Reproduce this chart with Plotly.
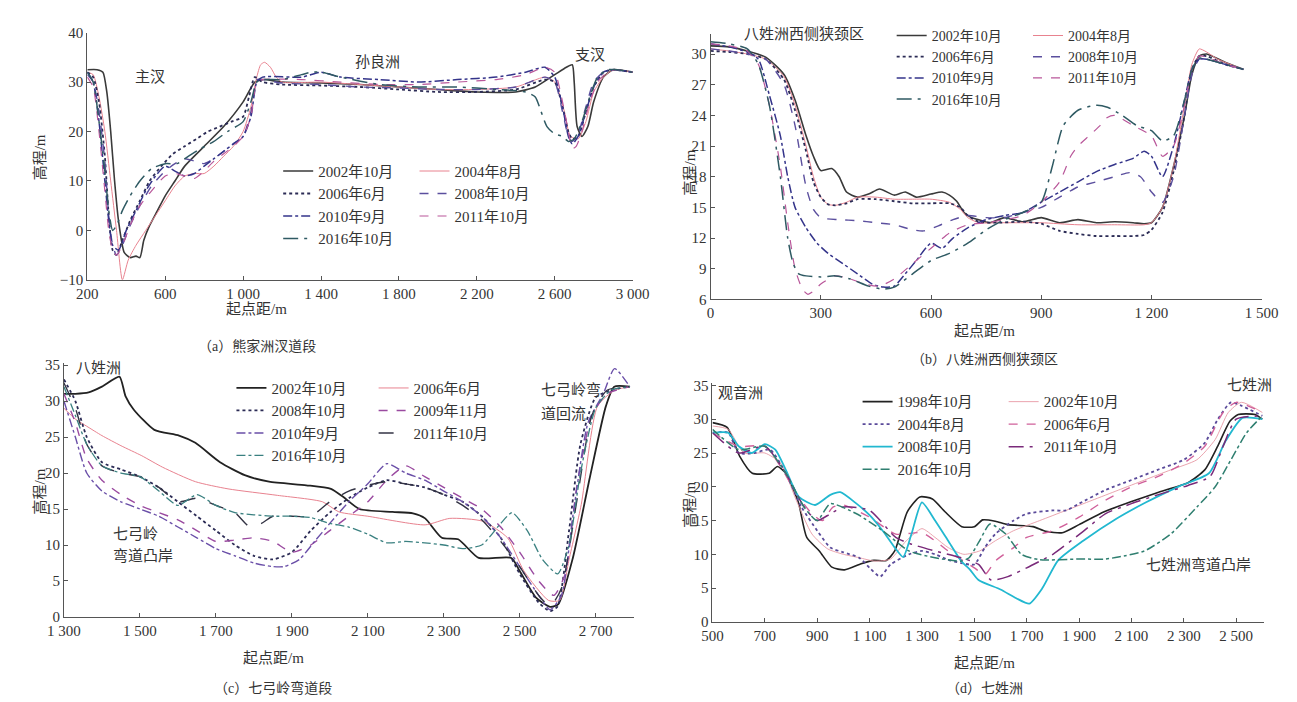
import plotly.graph_objects as go

FONT = "Liberation Serif, Noto Sans CJK SC, serif"
W, H = 1297, 702

# ---------------- data ----------------
# Panel (a)
a_names = ["2002年10月", "2004年8月", "2006年6月", "2008年10月", "2010年9月", "2011年10月", "2016年10月"]
a_2002_x = [200,250,280,300,320,340,360,390,420,450,470,490,520,560,600,650,700,800,900,1000,1060,1100,1200,1400,1600,1800,2000,2200,2400,2500,2600,2660,2690,2700,2715,2740,2770,2800,2850,2900,3000]
a_2002_y = [32.5,32.5,32,28,20,10,2,-4.5,-5.5,-5.2,-5.5,-2,1,4,7,10,13,17,21,26,30,30.5,30,29.8,29.5,29,28.5,28,28,29,31.5,33,33.5,30,21,19,21,26,31,32.5,32]
a_2004_x = [200,230,260,290,320,350,380,410,450,500,550,600,650,700,750,800,850,900,950,1000,1040,1070,1090,1110,1140,1170,1200,1400,1600,1800,2000,2200,2400,2550,2600,2650,2680,2720,2760,2800,2850,2900,3000]
a_2004_y = [32,31.5,27,20,10,0,-10,-6,-3,0,3,6,9,11,11.5,11.5,13,15,17,20,25,31,33.5,34,33,31,30,30,29.5,29,28.5,28.5,29,31,30,24,19,18.5,22,28,31,32.5,32]
a_2006_x = [200,230,260,290,310,330,350,380,420,470,520,580,640,700,760,820,880,940,1000,1030,1060,1100,1200,1400,1600,1800,2000,2200,2400,2550,2600,2640,2670,2690,2720,2760,2800,2850,2900,3000]
a_2006_y = [32,31,26,15,3,-4,-5,-2,2,6,10,13,15.5,17,18.5,20,21,22,23,27,31,30,29.5,29.3,29,28.5,28,28,28.5,30.5,30,25,20,18.5,19,24,29,32,32.5,32]
a_2008_x = [200,230,260,290,310,330,350,380,420,470,530,600,650,700,750,800,850,900,950,1000,1040,1070,1100,1200,1400,1600,1800,2000,2200,2400,2550,2600,2640,2670,2690,2720,2760,2800,2850,2900,3000]
a_2008_y = [31.5,30,24,14,3,-3,-5,-3,1,5,9,12,13.5,14.5,14,13.5,14.5,16,17.5,19,24,30.5,30.5,29.8,29.5,29,28.8,28.5,28.5,29,31,30,24,19,18,19.5,25,30,32,32.5,32]
a_2010_x = [200,230,260,290,310,330,360,400,450,500,550,600,650,700,750,800,850,900,950,1000,1040,1070,1100,1300,1400,1500,1700,1900,2100,2300,2450,2550,2600,2640,2670,2690,2720,2760,2800,2850,2900,3000]
a_2010_y = [32,30,22,10,2,-3,-4,0,4,8,11,13,12,11,11.5,13,14.5,16,17.5,19,23,30,31,31,32,31,30.5,30,30.5,31,32,33,31,25,19,17.5,19,24,29,32,32.5,32]
a_2011_x = [200,230,260,290,310,330,350,380,420,470,530,600,650,700,750,800,850,900,950,1000,1040,1070,1100,1300,1500,1700,1900,2100,2300,2450,2550,2600,2640,2670,2690,2710,2740,2780,2820,2870,2920,3000]
a_2011_y = [31,29,20,8,0,-4,-5,-3,1,5,8,11,11.5,11,10.5,12,14,15.5,17,19,23,30,30.5,30.5,30,29.5,29.5,30,30.5,31.5,33,32,26,20,16.5,17,20,26,30,32,32.5,32]
a_2016_x = [200,230,260,290,310,330,350,380,420,470,530,600,660,720,780,850,920,1000,1040,1070,1100,1200,1300,1350,1400,1500,1700,1900,2100,2300,2450,2500,2530,2560,2600,2640,2670,2700,2740,2780,2820,2870,2920,3000]
a_2016_y = [32,30,22,12,4,0,1,4,7,10,12.5,13.5,13.5,15,16.5,18,20,22,26,30,30.5,30.5,31.5,32,32,31,29.5,29,29,28.5,28,27,24,21,19.5,19,18,18.5,22,27,31,32.5,32.5,32]

# Panel (b)
b_names = ["2002年10月", "2004年8月", "2006年6月", "2008年10月", "2010年9月", "2011年10月", "2016年10月"]
b_2002_x = [0,50,100,150,200,230,260,280,300,330,350,370,400,430,460,500,530,560,600,630,650,670,690,710,730,760,800,850,900,950,1000,1050,1100,1150,1180,1200,1230,1260,1290,1310,1330,1350,1400,1450]
b_2002_y = [30.8,30.7,30.3,29.7,28,25.5,22,20,18.6,18.8,18,16.5,16,16.3,16.8,16.2,16.5,16,16.3,16.5,16.2,15.6,14.5,14,13.8,13.5,14,13.6,14,13.5,13.8,13.5,13.6,13.5,13.4,13.5,15,19,24,28,29.8,30,29.2,28.5]
b_2004_x = [0,50,100,150,200,230,260,280,300,320,340,370,400,450,500,550,600,650,680,700,730,780,850,900,1000,1100,1180,1200,1230,1260,1290,1310,1330,1350,1380,1450]
b_2004_y = [30.5,30.3,30,29.5,27.8,25,21,18,16,15.3,15.2,15.5,16,16,15.8,15.8,15.8,15.5,14.8,14,13.5,13.5,13.5,13.5,13.3,13.3,13.3,13.5,15,19,25,29,30.5,30.2,29.5,28.5]
b_2006_x = [0,50,100,150,200,230,260,280,300,320,340,370,400,450,500,550,600,650,680,700,730,780,850,900,950,1000,1050,1100,1150,1180,1200,1230,1260,1290,1310,1330,1350,1400,1450]
b_2006_y = [30.3,30.2,30,29.5,27.5,24.5,20.5,17.5,16,15.3,15.2,15.4,15.8,15.8,15.6,15.4,15.4,15.4,15.0,14.2,13.6,13.5,13.6,13.4,12.7,12.4,12.2,12.2,12.2,12.3,12.8,14.5,18.5,24,28.5,29.8,29.8,29,28.5]
b_2008_x = [0,50,100,150,200,230,260,280,300,350,400,450,500,550,580,620,660,700,750,800,850,900,950,1000,1050,1100,1140,1170,1200,1230,1260,1290,1310,1330,1350,1400,1450]
b_2008_y = [30.5,30.3,30,29.5,27,23,17,14.8,14,13.8,13.7,13.5,13.3,12.8,12.7,13.2,13.8,14.2,14,14,14.5,15,16,17,17.5,18,18.4,18,16.5,15.5,18,24,28,29.5,29.5,29,28.5]
b_2010_x = [0,50,100,130,160,190,210,230,260,290,320,360,400,440,470,500,530,560,600,630,660,700,750,800,850,900,950,1000,1050,1100,1150,1180,1200,1230,1260,1290,1310,1330,1350,1400,1450]
b_2010_y = [31,30.7,30.2,29.5,26,22,18,15,13,11.5,10.5,9.5,8.5,7.5,7.2,7.3,8.5,9.8,11.5,11,12,13,13.8,14.2,14.5,15.5,16.5,17.5,18.5,19.2,19.8,20.5,20,18,21,25.5,28.5,29.5,29.5,29,28.5]
b_2011_x = [0,50,100,130,160,190,210,230,250,265,280,300,340,380,420,460,500,550,600,650,700,750,800,850,900,950,980,1000,1030,1060,1080,1100,1150,1200,1230,1260,1290,1310,1330,1350,1400,1450]
b_2011_y = [31,30.8,30.3,29,25,19,13.5,9,7,6.5,6.8,7.5,8.3,8,7.5,7.3,8,9.5,11,12.5,13.3,13.5,13.8,14.2,15.5,17.5,20,21,22,23,23.8,24,23,22,20,21,25,28.5,29.8,29.7,29,28.5]
b_2016_x = [0,50,100,130,160,190,210,225,240,260,300,340,380,430,470,500,550,600,650,700,750,800,850,900,930,960,1000,1050,1080,1120,1160,1200,1230,1260,1290,1310,1330,1350,1400,1450]
b_2016_y = [31.2,31,30.5,29,25,18,12,9.5,8.5,8.3,8.2,8.3,8.0,7.3,7.0,7.2,8.5,9.8,10.5,11.5,12.8,13.8,14.5,15.5,19,23,24.5,25,24.8,24,23,22.5,21.5,22,25.5,28.5,29.6,29.5,29,28.5]

# Panel (c)
c_names = ["2002年10月", "2006年6月", "2008年10月", "2009年11月", "2010年9月", "2011年10月", "2016年10月"]
c_2002_x = [1300,1330,1365,1400,1446,1462,1484,1538,1603,1646,1711,1776,1840,1938,2003,2035,2078,2165,2219,2251,2295,2338,2392,2478,2500,2543,2581,2602,2640,2684,2727,2749,2790]
c_2002_y = [31,31,31.2,32,33.4,30.7,28.8,26,25.2,24.2,21.5,19.7,18.8,18.3,17.8,16.7,15,14.6,14.4,13.7,11,10.8,8.2,8.2,6.4,2.7,1.4,1.8,8.2,19.2,29.3,32,32]
c_2006_x = [1300,1330,1360,1400,1450,1505,1560,1646,1732,1862,1981,2024,2100,2251,2316,2403,2468,2511,2576,2605,2630,2662,2705,2750,2790]
c_2006_y = [29,27.5,26.5,25.2,23.8,22.4,20.8,18.8,17.8,16.9,16,14.6,14,12.8,13.7,13.3,11,6.4,2.3,2.3,8,15.6,29.3,31.5,32]
c_2008_x = [1300,1330,1360,1400,1450,1500,1550,1600,1650,1700,1750,1800,1850,1900,1950,2000,2050,2100,2150,2200,2250,2300,2350,2400,2450,2500,2550,2580,2600,2630,2660,2700,2740,2790]
c_2008_y = [33,30,25,21.5,20.5,19.5,18,16,14,12,10,8.5,8,9,12,14.5,16.5,18,19,18.5,18,17,16,14,11,6,2,0.8,1.5,12,24,30.5,31.5,32]
c_2009_x = [1300,1330,1360,1400,1450,1500,1550,1600,1650,1700,1750,1800,1850,1900,1950,2000,2050,2100,2150,2200,2250,2300,2350,2400,2450,2500,2550,2590,2620,2650,2690,2730,2790]
c_2009_y = [31,27,22,19,17,15.5,14.5,13.5,12,10.5,10.7,11,10.5,9,10,12,14,16,19,21,19.5,18,16.5,15,12.5,9,5,3,6,18,28,31,32]
c_2010_x = [1300,1330,1360,1400,1450,1500,1550,1600,1650,1700,1750,1800,1850,1880,1920,1960,2000,2050,2100,2150,2200,2250,2300,2350,2400,2450,2500,2550,2580,2610,2640,2680,2720,2750,2790]
c_2010_y = [30,25,20,17.5,16,15,14,12.5,11,9.5,8.5,7.5,7,7,8,10.5,13,16,18.5,21.3,20,19,17.5,16,14,11,7,3,1,3,14,27,31,34.5,32]
c_2011_x = [1300,1330,1360,1400,1450,1500,1550,1600,1650,1700,1750,1790,1820,1850,1900,1950,2000,2050,2100,2150,2200,2250,2300,2350,2400,2450,2500,2550,2580,2610,2650,2690,2730,2790]
c_2011_y = [32.5,29,24,21,20,19.5,18,16,16.5,15.5,14.5,12.5,13,14,14,14,16,17.5,18.3,18.8,18.5,18,17,15.5,13.5,10.5,7,3,1.5,4,16,28,31.5,32]
c_2016_x = [1300,1330,1360,1400,1450,1500,1550,1600,1650,1700,1750,1800,1850,1900,1950,2000,2050,2100,2150,2200,2250,2300,2350,2400,2450,2480,2520,2560,2600,2630,2660,2700,2740,2790]
c_2016_y = [32,28,24,21,20,19.5,17.5,15.5,17,15.5,14.5,14.2,14,14,13.8,13,12.5,11.5,10.3,10.5,10.3,10,9.5,10,13,14.5,12,8,6,10,20,29,31.5,32]

# Panel (d)
d_names = ["1998年10月", "2002年10月", "2004年8月", "2006年6月", "2008年10月", "2011年10月", "2016年10月"]
d_1998_x = [500,556,604,652,716,748,780,828,860,908,956,1004,1068,1116,1164,1196,1244,1292,1340,1388,1452,1500,1532,1580,1628,1724,1772,1836,1900,1996,2092,2204,2316,2380,2428,2476,2508,2572,2600]
d_1998_y = [29.5,28.8,24.5,22,22,23,22,17.7,12.5,10.5,8.1,7.7,8.6,9.1,9.1,10.5,16.3,18.5,18.2,16.3,14.1,14.1,15.1,14.9,14.4,14.1,13.4,13.2,14.4,16.3,17.7,19.2,20.6,22.5,25.9,29.7,30.7,30.7,30]
d_2002_x = [500,560,620,700,760,820,880,940,1000,1060,1120,1180,1240,1300,1350,1400,1460,1520,1580,1650,1750,1850,1950,2050,2150,2250,2350,2420,2470,2520,2600]
d_2002_y = [29,28.5,25,25,23.5,18,13,10.8,10,9.5,9,9.3,12,13.8,12.5,11,10,10.5,12,13.5,15,16.5,18,19.5,21,22.5,24,27,31,32.5,31]
d_2004_x = [500,560,600,660,720,780,840,900,950,1000,1060,1100,1140,1180,1250,1300,1350,1400,1450,1500,1540,1580,1650,1700,1800,1850,1900,2000,2100,2200,2300,2380,2430,2480,2520,2600]
d_2004_y = [28,28,25,25,25.5,22,17,13.5,11,10.3,9.5,8,6.7,8.5,10,10.5,10,9.2,8.7,8.5,11,13,15,16,16.5,16.5,17.5,19.5,21,22.5,24,26.5,30,32.5,32,30.5]
d_2006_x = [500,600,700,760,820,880,920,960,1000,1100,1200,1300,1350,1400,1500,1540,1580,1650,1700,1800,1900,2000,2100,2200,2300,2380,2450,2500,2600]
d_2006_y = [28,26,26,23,19,16,15,17,17.3,15.5,13,13.2,12,10.5,8,7,9,11,12.5,13.5,15.5,18,20,21.5,23.5,26,31,32.5,31]
d_2008_x = [500,560,600,650,700,740,780,830,892,950,988,1050,1100,1150,1196,1228,1260,1300,1350,1400,1450,1484,1516,1600,1660,1710,1760,1820,1916,2044,2156,2284,2396,2460,2524,2600]
d_2008_y = [28,28,26,25,26.3,25.5,22.5,18.5,17.3,18.8,19.2,17.5,15.8,13.5,11,9.6,13,17.7,15,12,9,7.7,6.2,4.8,3.5,2.7,5,9.1,12,15.3,17.7,20.1,22,26.8,30.2,30]
d_2011_x = [500,600,700,780,850,900,950,1000,1100,1200,1260,1350,1450,1516,1564,1628,1700,1756,1800,1916,2000,2100,2200,2316,2400,2450,2500,2600]
d_2011_y = [28,25,26,22,17,15,16,17,16.5,12.5,11.5,10.5,9.5,8.5,6.2,6.7,8,9.1,10,13.4,16,17.5,18.8,20.2,21.5,26,30,30.5]
d_2016_x = [500,600,700,780,850,900,950,1050,1150,1250,1350,1450,1480,1520,1560,1620,1680,1750,1900,2000,2050,2150,2250,2350,2420,2480,2540,2600]
d_2016_y = [28.5,25.5,26,22,17,15,17.5,16,13.5,10.5,9.5,9,9.5,12,14.5,13,10,9.2,9.3,9.3,9.6,10.5,13,17,20,24,28,30.5]

# --------------- styles ---------------
ab_style = {
    "2002年10月": ("#3a3a3a", "solid", 1.6),
    "2004年8月": ("#e8828f", "solid", 1.0),
    "2006年6月": ("#2b2b55", "dot", 1.8),
    "2008年10月": ("#5b4f9e", "dash", 1.4),
    "2010年9月": ("#34348a", "dashdot", 1.5),
    "2011年10月": ("#b9579a", "dash", 1.2),
    "2016年10月": ("#2f5a63", "longdashdot", 1.5),
}
c_style = {
    "2002年10月": ("#222222", "solid", 1.8),
    "2006年6月": ("#e8828f", "solid", 1.0),
    "2008年10月": ("#2b2b55", "dot", 1.8),
    "2009年11月": ("#9a4aa0", "dash", 1.4),
    "2010年9月": ("#6a4fa8", "dashdot", 1.4),
    "2011年10月": ("#333344", "longdash", 1.4),
    "2016年10月": ("#3a8080", "dashdot", 1.3),
}
d_style = {
    "1998年10月": ("#222222", "solid", 1.6),
    "2002年10月": ("#e89aa5", "solid", 0.9),
    "2004年8月": ("#5a4a9a", "dot", 1.8),
    "2006年6月": ("#d0609a", "dash", 1.4),
    "2008年10月": ("#22b8d0", "solid", 1.8),
    "2011年10月": ("#7a2a7a", "longdashdot", 1.5),
    "2016年10月": ("#2f7f70", "dashdot", 1.5),
}

panels = [
    ("x", "y", a_names, [(a_2002_x, a_2002_y), (a_2004_x, a_2004_y), (a_2006_x, a_2006_y), (a_2008_x, a_2008_y),
                         (a_2010_x, a_2010_y), (a_2011_x, a_2011_y), (a_2016_x, a_2016_y)], ab_style, ("legend", "legend2")),
    ("x2", "y2", b_names, [(b_2002_x, b_2002_y), (b_2004_x, b_2004_y), (b_2006_x, b_2006_y), (b_2008_x, b_2008_y),
                           (b_2010_x, b_2010_y), (b_2011_x, b_2011_y), (b_2016_x, b_2016_y)], ab_style, ("legend3", "legend4")),
    ("x3", "y3", c_names, [(c_2002_x, c_2002_y), (c_2006_x, c_2006_y), (c_2008_x, c_2008_y), (c_2009_x, c_2009_y),
                           (c_2010_x, c_2010_y), (c_2011_x, c_2011_y), (c_2016_x, c_2016_y)], c_style, ("legend5", "legend6")),
    ("x4", "y4", d_names, [(d_1998_x, d_1998_y), (d_2002_x, d_2002_y), (d_2004_x, d_2004_y), (d_2006_x, d_2006_y),
                           (d_2008_x, d_2008_y), (d_2011_x, d_2011_y), (d_2016_x, d_2016_y)], d_style, ("legend7", "legend8")),
]

fig = go.Figure()
for xa, ya, names, series, style, legs in panels:
    for i, (name, (xs, ys)) in enumerate(zip(names, series)):
        col, dash, w = style[name]
        fig.add_trace(go.Scatter(
            x=xs, y=ys, mode="lines", name=name, xaxis=xa, yaxis=ya,
            line=dict(color=col, dash=dash, width=w, shape="spline", smoothing=0.6),
            legend=legs[i % 2], showlegend=True,
        ))

def px(x):
    return x / W

def py(y):
    return 1 - y / H

axis_common = dict(showline=True, linecolor="#555555", linewidth=1, ticks="inside", ticklen=4,
                   tickcolor="#555555", showgrid=False, zeroline=False,
                   tickfont=dict(family=FONT, size=15, color="#333333"), tickformat=",")

fig.update_layout(
    width=W, height=H, margin=dict(l=0, r=0, t=0, b=0),
    paper_bgcolor="white", plot_bgcolor="white", separators=". ",
    font=dict(family=FONT, size=14, color="#333333"),
    xaxis=dict(domain=[px(64), px(624)], range=[200, 3000], dtick=400, tick0=200, anchor="y", **axis_common),
    yaxis=dict(domain=[py(270), py(17)], range=[-10, 40], dtick=10, anchor="x", **axis_common),
    xaxis2=dict(domain=[px(704), px(1270)], range=[0, 1500], dtick=300, anchor="y2", **axis_common),
    yaxis2=dict(domain=[py(290), py(18)], range=[6, 32], dtick=3, tick0=6, anchor="x2", **axis_common),
    xaxis3=dict(domain=[px(40), px(625)], range=[1300, 2800], tickvals=[1300, 1500, 1700, 1900, 2100, 2300, 2500, 2700], anchor="y3", **axis_common),
    yaxis3=dict(domain=[py(615), py(355)], range=[0, 35.3], dtick=5, anchor="x3", **axis_common),
    xaxis4=dict(domain=[px(706), px(1272)], range=[500, 2605], tickvals=[500, 700, 900, 1100, 1300, 1500, 1700, 1900, 2100, 2300, 2500], anchor="y4", **axis_common),
    yaxis4=dict(domain=[py(620), py(376)], range=[0, 35.3], dtick=5, anchor="x4", **axis_common),
)

leg_pos = {
    "legend": (260, 142, 15), "legend2": (400, 142, 15),
    "legend3": (890, 4, 14), "legend4": (1030, 4, 14),
    "legend5": (212, 364, 15), "legend6": (358, 364, 15),
    "legend7": (855, 378, 15), "legend8": (1005, 378, 15),
}
for k, (lx, ly, fs) in leg_pos.items():
    fig.update_layout({k: dict(x=px(lx), y=py(ly), xanchor="left", yanchor="top",
                               bgcolor="rgba(0,0,0,0)", borderwidth=0, orientation="v",
                               font=dict(family=FONT, size=fs, color="#333333"),
                               itemwidth=30, tracegroupgap=0)})

ann = []
def text(x, y, s, size=15, xanchor="center", angle=0):
    ann.append(dict(x=px(x), y=py(y), xref="paper", yref="paper", text=s, showarrow=False,
                    font=dict(family=FONT, size=size, color="#333333"), xanchor=xanchor, yanchor="middle",
                    textangle=angle))

# panel labels
text(128, 62, "主汊"); text(362, 47, "孙良洲"); text(580, 40, "支汊")
text(800, 18, "八姓洲西侧狭颈区")
text(75, 360, "八姓洲"); text(528, 383, "七弓岭弯", xanchor="left"); text(528, 407, "道回流", xanchor="left")
text(88, 530, "七弓岭", xanchor="left"); text(88, 553, "弯道凸岸", xanchor="left")
text(735, 386, "观音洲"); text(1257, 378, "七姓洲"); text(1205, 562, "七姓洲弯道凸岸")
# axis titles
for (x, y) in [(15, 145), (683, 160), (15, 487), (683, 500)]:
    text(x, y, "高程/m", angle=-90)
for (x, y) in [(238, 300), (985, 322), (255, 657), (985, 662)]:
    text(x, y, "起点距/m")
# subtitles
text(238, 338, "（a）熊家洲汊道段", size=14)
text(985, 352, "（b）八姓洲西侧狭颈区", size=14)
text(255, 688, "（c）七弓岭弯道段", size=14)
text(985, 688, "（d）七姓洲", size=14)
fig.update_layout(annotations=ann)

fig.write_html("out.html")
